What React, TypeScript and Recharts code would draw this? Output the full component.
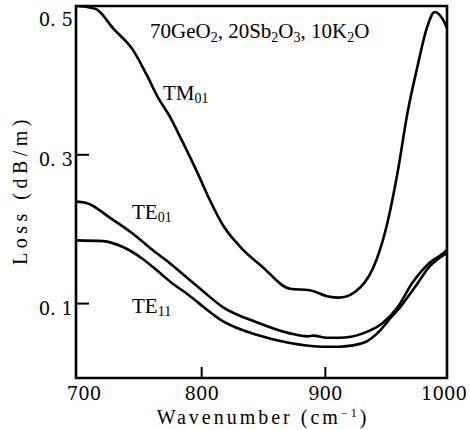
import { Line, LineChart, ReferenceArea, XAxis, YAxis } from "recharts"

// TM01 mode
const tm01Wave = [700, 711, 717, 730, 746, 757, 766, 776, 786, 799, 808, 819, 833, 851, 873, 889, 903, 913, 930, 943, 951, 960, 968, 976, 984, 990, 997, 1000]
const tm01Loss = [0.5, 0.498, 0.495, 0.47, 0.441, 0.408, 0.378, 0.351, 0.318, 0.273, 0.24, 0.205, 0.176, 0.149, 0.12, 0.118, 0.11, 0.108, 0.122, 0.159, 0.203, 0.276, 0.356, 0.418, 0.472, 0.492, 0.481, 0.47]

// TE01 mode
const te01Wave = [700, 709, 727, 746, 765, 774, 786, 799, 819, 846, 873, 887, 892, 903, 913, 932, 948, 960, 972, 986, 998, 1000]
const te01Loss = [0.237, 0.235, 0.216, 0.194, 0.168, 0.157, 0.14, 0.122, 0.095, 0.075, 0.06, 0.056, 0.057, 0.054, 0.054, 0.06, 0.074, 0.095, 0.128, 0.155, 0.169, 0.172]

// TE11 mode
const te11Wave = [700, 722, 738, 754, 768, 778, 790, 799, 819, 846, 873, 900, 913, 932, 946, 954, 962, 974, 986, 1000]
const te11Loss = [0.185, 0.184, 0.176, 0.16, 0.141, 0.127, 0.113, 0.101, 0.076, 0.058, 0.047, 0.042, 0.042, 0.047, 0.064, 0.08, 0.095, 0.122, 0.15, 0.168]

const xTicks = [700, 800, 900, 1000]
const yTicks = [0.1, 0.3, 0.5]

const zip = (xs: number[], ys: number[]) => xs.map((w, i) => ({ w, v: ys[i] }))

const tm01 = zip(tm01Wave, tm01Loss)
const te01 = zip(te01Wave, te01Loss)
const te11 = zip(te11Wave, te11Loss)

const serif = "'Liberation Serif', serif"
const digits = "'DejaVu Serif', serif"

const YTick = (props: any) => {
  const { x, y, payload } = props
  const v = payload.value
  const top = v === 0.5
  return (
    <g>
      {!top && <line x1={x} x2={x + 13} y1={y} y2={y} stroke="#000" strokeWidth={2} />}
      <text x={x - 3} y={y + (top ? 12 : 6)} textAnchor="end" dominantBaseline="middle" fontFamily={digits} fontSize={18} fill="#000">
        {v.toFixed(1).replace(".", ". ")}
      </text>
    </g>
  )
}

const XTick = (props: any) => {
  const { x, y, payload } = props
  const v = payload.value
  const inner = v !== 700 && v !== 1000
  const shift = v === 700 ? 8 : v === 1000 ? -3 : 2
  return (
    <g>
      {inner && <line x1={x + 2} x2={x + 2} y1={y} y2={y - 11} stroke="#000" strokeWidth={2} />}
      <text x={x + shift} y={y + 17} textAnchor="middle" dominantBaseline="middle" fontFamily={digits} fontSize={18} fill="#000">
        {v}
      </text>
    </g>
  )
}

export default function App() {
  return (
    <div style={{ position: "absolute", left: 0, top: 0, width: 470, height: 430, background: "#fff" }}>
      <LineChart width={470} height={430} margin={{ top: 6, right: 23, left: 16, bottom: 12 }}>
        <XAxis
          dataKey="w"
          type="number"
          domain={[700, 1000]}
          ticks={xTicks}
          allowDataOverflow
          height={40}
          tickSize={0}
          tickMargin={0}
          tickLine={false}
          axisLine={false}
          tick={<XTick />}
        />
        <YAxis
          type="number"
          domain={[0, 0.5]}
          ticks={yTicks}
          allowDataOverflow
          width={60}
          tickSize={0}
          tickMargin={0}
          tickLine={false}
          axisLine={false}
          tick={<YTick />}
        />
        <ReferenceArea x1={700} x2={1000} y1={0} y2={0.5} fill="none" stroke="#000" strokeWidth={2.6} ifOverflow="visible" />
        <Line data={tm01} dataKey="v" type="monotone" stroke="#000" strokeWidth={2.6} dot={false} isAnimationActive={false} />
        <Line data={te01} dataKey="v" type="monotone" stroke="#000" strokeWidth={2.6} dot={false} isAnimationActive={false} />
        <Line data={te11} dataKey="v" type="monotone" stroke="#000" strokeWidth={2.6} dot={false} isAnimationActive={false} />
      </LineChart>
      <svg width={470} height={430} style={{ position: "absolute", left: 0, top: 0, pointerEvents: "none" }}>
        <text x={150} y={38} fontFamily={serif} fontSize={21} fill="#000">
          70GeO<tspan fontSize={14} dy={4}>2</tspan>
          <tspan dy={-4}>, 20Sb</tspan>
          <tspan fontSize={14} dy={4}>2</tspan>
          <tspan dy={-4}>O</tspan>
          <tspan fontSize={14} dy={4}>3</tspan>
          <tspan dy={-4}>, 10K</tspan>
          <tspan fontSize={14} dy={4}>2</tspan>
          <tspan dy={-4}>O</tspan>
        </text>
        <text x={163} y={100} fontFamily={serif} fontSize={21} fill="#000">
          TM<tspan fontSize={14} dy={3}>01</tspan>
        </text>
        <text x={132} y={219} fontFamily={serif} fontSize={21} fill="#000">
          TE<tspan fontSize={14} dy={3}>01</tspan>
        </text>
        <text x={132} y={313} fontFamily={serif} fontSize={21} fill="#000">
          TE<tspan fontSize={14} dy={3}>11</tspan>
        </text>
        <text x={263} y={424} textAnchor="middle" fontFamily={serif} fontSize={20} letterSpacing={3} fill="#000">
          Wavenumber (cm<tspan fontSize={12} dy={-7}>−1</tspan>
          <tspan dy={7}>)</tspan>
        </text>
        <text x={0} y={0} transform="translate(27,190) rotate(-90)" textAnchor="middle" fontFamily={serif} fontSize={20} letterSpacing={4.5} fill="#000">
          Loss (dB/m)
        </text>
      </svg>
    </div>
  )
}
